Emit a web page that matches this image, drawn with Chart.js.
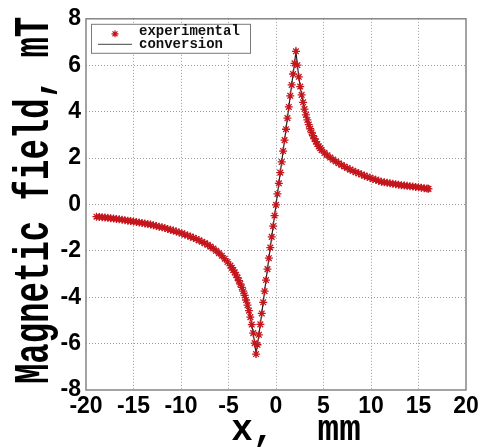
<!DOCTYPE html>
<html>
<head>
<meta charset="utf-8">
<script src="https://cdn.jsdelivr.net/npm/chart.js@4.4.1/dist/chart.umd.min.js"></script>
<style>
  html, body { margin: 0; padding: 0; background: #fff; }
  #c { display: block; }
</style>
</head>
<body>
<canvas id="c" width="485" height="448"></canvas>
<script>
// Position along the axis, mm
const fieldX = [
  -18.9, -18.6, -18.3, -18.0, -17.7, -17.4, -17.1, -16.8, -16.5, -16.2,
  -15.9, -15.6, -15.3, -15.0, -14.7, -14.4, -14.1, -13.8, -13.5, -13.2,
  -12.9, -12.6, -12.3, -12.0, -11.7, -11.4, -11.1, -10.8, -10.5, -10.2,
  -9.9, -9.6, -9.3, -9.0, -8.7, -8.4, -8.1, -7.8, -7.5, -7.2,
  -6.9, -6.6, -6.3, -6.0, -5.7, -5.4, -5.1, -4.8,
  -4.65, -4.5, -4.35, -4.2, -4.05, -3.9, -3.75, -3.6, -3.45, -3.3,
  -3.15, -3.0, -2.85, -2.7, -2.55, -2.4, -2.25, -2.1,
  -1.95, -1.8, -1.65, -1.5, -1.35, -1.2, -1.05, -0.9, -0.75, -0.6,
  -0.45, -0.3, -0.15, 0.0, 0.15, 0.3, 0.45, 0.6, 0.75, 0.9,
  1.05, 1.2, 1.35, 1.5, 1.65, 1.8, 1.95, 2.1,
  2.25, 2.4, 2.55, 2.7, 2.85, 3.0, 3.15, 3.3, 3.45, 3.6,
  3.75, 3.9, 4.05, 4.2, 4.35, 4.5, 4.65, 4.8,
  5.1, 5.4, 5.7, 6.0, 6.3, 6.6, 6.9, 7.2, 7.5, 7.8,
  8.1, 8.4, 8.7, 9.0, 9.3, 9.6, 9.9, 10.2, 10.5, 10.8,
  11.1, 11.4, 11.7, 12.0, 12.3, 12.6, 12.9, 13.2, 13.5, 13.8,
  14.1, 14.4, 14.7, 15.0, 15.3, 15.6, 15.9, 16.05
];

// Measured field, mT
const fieldExperimental = [
  -0.53, -0.54, -0.55, -0.57, -0.58, -0.60, -0.61, -0.63, -0.64, -0.66,
  -0.68, -0.70, -0.72, -0.74, -0.76, -0.78, -0.80, -0.82, -0.85, -0.87,
  -0.90, -0.93, -0.96, -0.99, -1.02, -1.06, -1.09, -1.13, -1.17, -1.21,
  -1.25, -1.30, -1.34, -1.39, -1.44, -1.49, -1.55, -1.61, -1.67, -1.74,
  -1.82, -1.90, -2.00, -2.10, -2.21, -2.34, -2.48, -2.64,
  -2.73, -2.83, -2.93, -3.04, -3.16, -3.29, -3.43, -3.58, -3.74, -3.92,
  -4.12, -4.34, -4.58, -4.86, -5.18, -5.55, -5.98, -6.45,
  -6.05, -5.62, -5.17, -4.70, -4.22, -3.74, -3.26, -2.79, -2.32, -1.86,
  -1.40, -0.94, -0.48, -0.02, 0.45, 0.91, 1.37, 1.83, 2.30, 2.77,
  3.24, 3.72, 4.20, 4.68, 5.15, 5.62, 6.08, 6.60,
  6.00, 5.50, 5.08, 4.72, 4.40, 4.11, 3.86, 3.64, 3.44, 3.26,
  3.10, 2.96, 2.83, 2.71, 2.60, 2.50, 2.42, 2.34,
  2.22, 2.12, 2.02, 1.93, 1.85, 1.77, 1.70, 1.63, 1.57, 1.50,
  1.45, 1.39, 1.34, 1.29, 1.24, 1.19, 1.15, 1.10, 1.06, 1.02,
  0.98, 0.95, 0.93, 0.91, 0.89, 0.87, 0.85, 0.83, 0.81, 0.80,
  0.78, 0.77, 0.75, 0.74, 0.72, 0.70, 0.68, 0.67
];

// Converted field follows the measured curve
const fieldConversion = fieldExperimental.slice();

const xTicks = [-20, -15, -10, -5, 0, 5, 10, 15, 20];
const yTicks = [-8, -6, -4, -2, 0, 2, 4, 6, 8];
const seriesNames = ['experimental', 'conversion'];
const xTitle = 'x,  mm';
const yTitle = 'Magnetic field, mT';

const RED = '#c4161c';
const MONO = '"Liberation Mono", "DejaVu Sans Mono", monospace';
const SANS = '"Liberation Sans", Arial, sans-serif';

const toPoints = (xs, ys) => xs.map((x, i) => ({ x: x, y: ys[i] }));

// Frame, axis titles and the boxed legend inside the plot
const decorations = {
  id: 'decorations',
  afterDraw(chart) {
    const ctx = chart.ctx;
    const a = chart.chartArea;
    ctx.save();

    // plot frame
    ctx.strokeStyle = '#858585';
    ctx.lineWidth = 1.5;
    ctx.setLineDash([]);
    ctx.strokeRect(a.left, a.top, a.right - a.left, a.bottom - a.top);

    // x title
    ctx.fillStyle = '#000';
    ctx.font = 'bold 36px ' + MONO;
    ctx.textAlign = 'center';
    ctx.textBaseline = 'alphabetic';
    ctx.fillText(xTitle, (a.left + a.right) / 2 + 20, 440);

    // y title, rotated and drawn tall
    ctx.save();
    ctx.font = 'bold 34px ' + MONO;
    ctx.translate(48, (a.top + a.bottom) / 2 - 4);
    ctx.rotate(-Math.PI / 2);
    ctx.scale(1, 1.45);
    ctx.fillText(yTitle, 0, 0);
    ctx.restore();

    // legend box
    const bx = a.left + 5, by = a.top + 5, bw = 159, bh = 29;
    ctx.fillStyle = '#fff';
    ctx.fillRect(bx, by, bw, bh);
    ctx.strokeStyle = '#7a7a7a';
    ctx.lineWidth = 1;
    ctx.strokeRect(bx + 0.5, by + 0.5, bw, bh);

    // experimental marker sample
    ctx.strokeStyle = RED;
    ctx.lineWidth = 1.2;
    Chart.helpers.drawPoint(ctx, {
      pointStyle: 'star', radius: 3.5, rotation: 0, borderWidth: 1.2
    }, bx + 24, by + 10);

    // conversion line sample
    ctx.strokeStyle = '#444';
    ctx.lineWidth = 1;
    ctx.beginPath();
    ctx.moveTo(bx + 7, by + 20.5);
    ctx.lineTo(bx + 41, by + 20.5);
    ctx.stroke();

    ctx.fillStyle = '#111';
    ctx.font = 'bold 14px ' + MONO;
    ctx.textAlign = 'left';
    ctx.fillText(seriesNames[0], bx + 48, by + 11);
    ctx.fillText(seriesNames[1], bx + 48, by + 24);

    ctx.restore();
  }
};

const gridColor = (ctx, edges) =>
  edges.includes(ctx.tick && ctx.tick.value) ? 'rgba(0,0,0,0)' : '#9a9a9a';

new Chart(document.getElementById('c'), {
  type: 'scatter',
  data: {
    datasets: [
      {
        label: seriesNames[0],
        data: toPoints(fieldX, fieldExperimental),
        showLine: false,
        pointStyle: 'star',
        pointRadius: 4,
        borderColor: RED,
        backgroundColor: RED,
        pointBorderWidth: 1.3,
        order: 0
      },
      {
        label: seriesNames[1],
        data: toPoints(fieldX, fieldConversion),
        showLine: true,
        borderColor: '#222',
        borderWidth: 1.2,
        pointRadius: 0,
        tension: 0,
        order: 1
      }
    ]
  },
  options: {
    responsive: false,
    animation: false,
    events: [],
    layout: { padding: { top: 18, right: 19, left: 0, bottom: 0 } },
    plugins: {
      legend: { display: false },
      tooltip: { enabled: false },
      title: { display: false }
    },
    scales: {
      x: {
        type: 'linear',
        min: -20, max: 20,
        afterBuildTicks: s => { s.ticks = xTicks.map(v => ({ value: v })); },
        afterFit: s => { s.height = 58; },
        ticks: {
          color: '#000',
          padding: 3,
          maxRotation: 0,
          autoSkip: false,
          font: { family: SANS, size: 23, weight: 'bold' }
        },
        grid: {
          drawTicks: false,
          color: c => gridColor(c, [-20, 20]),
          lineWidth: 1
        },
        border: { display: false, dash: [1, 2] }
      },
      y: {
        type: 'linear',
        min: -8, max: 8,
        afterBuildTicks: s => { s.ticks = yTicks.map(v => ({ value: v })); },
        afterFit: s => { s.width = 86; },
        ticks: {
          color: '#000',
          padding: 5,
          autoSkip: false,
          font: { family: SANS, size: 23, weight: 'bold' }
        },
        grid: {
          drawTicks: false,
          color: c => gridColor(c, [-8, 8]),
          lineWidth: 1
        },
        border: { display: false, dash: [1, 2] }
      }
    }
  },
  plugins: [decorations]
});
</script>
</body>
</html>
